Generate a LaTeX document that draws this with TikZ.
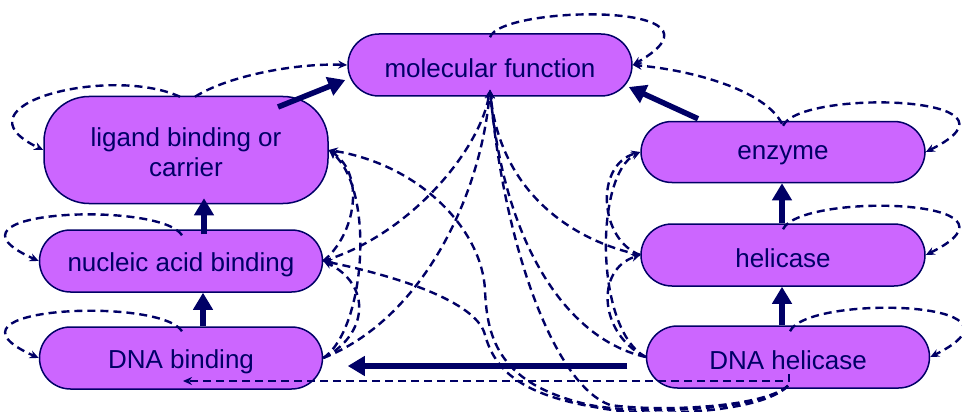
\documentclass[tikz,border=0pt]{standalone}
\usepackage{fontspec}
\setmainfont{Liberation Sans}
\usetikzlibrary{arrows.meta}
\definecolor{navy}{HTML}{000066}
\definecolor{boxfill}{HTML}{CC66FF}
\tikzset{
  term/.style={draw=navy, line width=1.5pt, fill=boxfill, inner sep=0pt,
    rounded corners=31pt, minimum height=62pt, minimum width=284pt},
  termtext/.style={text=navy, font=\fontsize{26}{30}\selectfont, align=center,
    inner sep=0pt, yshift=-3.5pt},
  isa/.style={draw=navy, line width=5.5pt, -{Triangle[length=17pt,width=19pt]}},
  closure/.style={draw=navy, line width=2.4pt, dash pattern=on 8pt off 5pt,
    -{Stealth[length=9pt,width=8pt]}},
}
\begin{document}
\begin{tikzpicture}[x=1pt,y=-1pt]
\useasboundingbox (0,0) rectangle (962,412);

% GO terms
\node[term, label={[termtext]center:molecular function}] (mf) at (490,65) {};
\node[term, minimum height=107pt, rounded corners=45pt,
  label={[termtext, yshift=1pt]center:ligand binding or\\carrier}] (lig) at (186,150) {};
\node[term, minimum width=283pt, label={[termtext]center:nucleic acid binding}] (nuc) at (181,261) {};
\node[term, minimum width=283pt, label={[termtext]center:DNA binding}] (dnab) at (181,358) {};
\node[term, minimum height=61pt, label={[termtext]center:enzyme}] (enz) at (783,152) {};
\node[term, label={[termtext]center:helicase}] (hel) at (783,255) {};
\node[term, minimum width=283pt, label={[termtext]center:DNA helicase}] (dnah) at (788,357) {};

% reflexive links
\draw[closure] ([shift={(0,4)}]mf.north) .. controls +(10,-32) and +(111,-64) .. (mf.east);
\draw[closure] ([shift={(-6,1)}]lig.north) .. controls +(-70,-32) and +(-94,-45) .. (lig.west);
\draw[closure] ([shift={(1,6)}]nuc.north) .. controls +(-22,-35) and +(-114,-51) .. (nuc.west);
\draw[closure] ([shift={(1,5)}]dnab.north) .. controls +(-22,-35) and +(-114,-51) .. (dnab.west);
\draw[closure] ([shift={(0,5)}]enz.north) .. controls +(17,-37) and +(115,-57) .. (enz.east);
\draw[closure] ([shift={(0,6)}]hel.north) .. controls +(17,-37) and +(115,-57) .. (hel.east);
\draw[closure] ([shift={(2,6)}]dnah.north) .. controls +(17,-37) and +(115,-57) .. (dnah.east);

% transitive links
\draw[closure] ([shift={(9,1)}]lig.north) .. controls +(35,-22) and +(-48,-2) .. (mf.west);
\draw[closure] ([shift={(-1,3)}]enz.north) .. controls +(-17,-34) and +(58,5) .. (mf.east);
\draw[closure] (nuc.east) .. controls +(32,-26) and +(37,25) .. (lig.east);
\draw[closure] (dnab.east) .. controls +(42,-28) and +(47,40) .. (lig.east);
\draw[closure] (dnab.east) .. controls +(45,-23) and +(49,24) .. (nuc.east);
\draw[closure] (hel.west) .. controls +(-41,-15) and +(-46,13) .. (enz.west);
\draw[closure] (dnah.west) .. controls +(-46,-22) and +(-46,15) .. (hel.west);
\draw[closure] (dnah.west) .. controls +(-51,-27) and +(-46,23) .. (enz.west);
\draw[closure] (nuc.east) .. controls +(87,-26) and +(-10,60) .. ([shift={(0,-7)}]mf.south);
\draw[closure] (dnab.east) .. controls +(97,-38) and +(-10,110) .. ([shift={(0,-7)}]mf.south);
\draw[closure] (hel.west) .. controls +(-71,-15) and +(10,100) .. ([shift={(0,-7)}]mf.south);
\draw[closure] (dnah.west) .. controls +(-76,-17) and +(15,160) .. ([shift={(0,-7)}]mf.south);
\draw[closure] ([shift={(0,-3)}]dnah.south) .. controls +(-25,22) and +(50,7) .. (610,405)
  .. controls +(-55,-20) and +(15,160) .. ([shift={(0,-7)}]mf.south);
\draw[closure] ([shift={(0,-3)}]dnah.south) .. controls +(-25,25) and +(50,10) .. (590,405)
  .. controls +(-90,-20) and +(2,50) .. (485,290)
  .. controls +(-3,-60) and +(92,15) .. (lig.east);
\draw[closure] ([shift={(0,-3)}]dnah.south) .. controls +(-25,27) and +(50,10) .. (600,408)
  .. controls +(-80,-13) and +(10,35) .. (485,335)
  .. controls +(-7,-30) and +(87,18) .. (nuc.east);
\draw[closure] ([shift={(1,17)}]dnah.center) |- ([shift={(2,23)}]dnab.center);

% direct is-a links
\draw[isa] ([shift={(22,0)}]dnab.north) -- ([shift={(22,0)}]nuc.south);
\draw[isa] ([shift={(23,5)}]nuc.north) -- ([shift={(18,-6)}]lig.south);
\draw[isa] ([shift={(92,-43)}]lig.center) -- ([shift={(-2,15)}]mf.west);
\draw[isa] ([shift={(-85,-2)}]enz.north) -- ([shift={(-4,22)}]mf.east);
\draw[isa] ([shift={(-1,0)}]hel.north) -- ([shift={(-1,0)}]enz.south);
\draw[isa] ([shift={(-6,0)}]dnah.north) -- ([shift={(-1,0)}]hel.south);
\draw[isa] ([shift={(-18.5,9)}]dnah.west) -- ([shift={(24.5,8)}]dnab.east);
\end{tikzpicture}
\end{document}
